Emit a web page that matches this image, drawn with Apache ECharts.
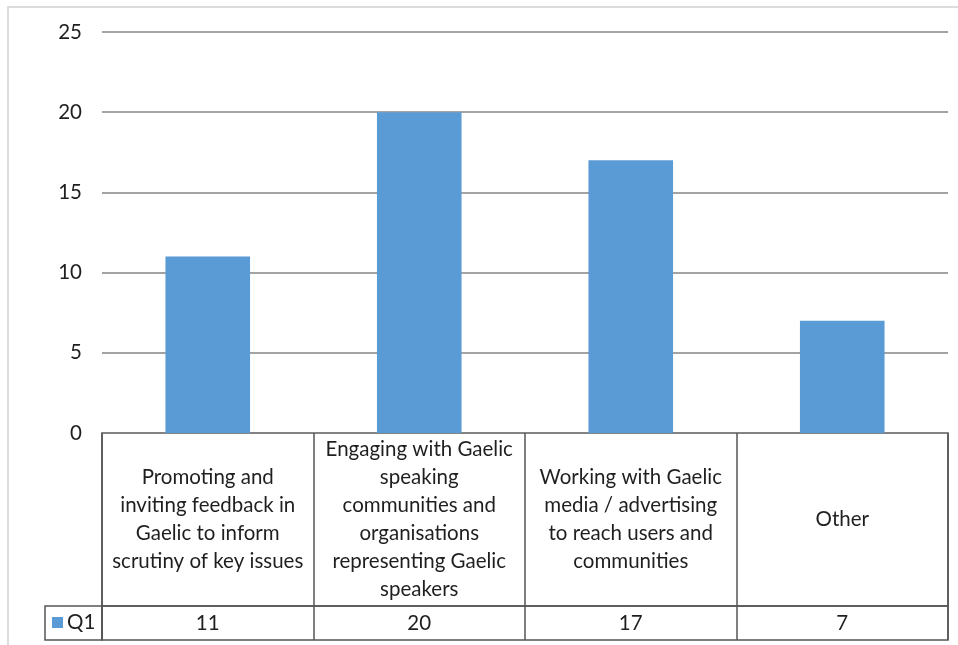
<!DOCTYPE html>
<html>
<head>
<meta charset="utf-8">
<script src="https://cdn.jsdelivr.net/npm/echarts@6/dist/echarts.min.js"></script>
<style>
  html, body { margin: 0; padding: 0; background: #fff; }
  #chart { width: 958px; height: 645px; }
</style>
</head>
<body>
<div id="chart"></div>
<script>
// Chart data
const seriesName = 'Q1';
const categories = [
  'Promoting and\ninviting feedback in\nGaelic to inform\nscrutiny of key issues',
  'Engaging with Gaelic\nspeaking\ncommunities and\norganisations\nrepresenting Gaelic\nspeakers',
  'Working with Gaelic\nmedia / advertising\nto reach users and\ncommunities',
  'Other'
];
const values = [11, 20, 17, 7];
const yTicks = { min: 0, max: 25, interval: 5 };

const FONT = 'Lato, "Open Sans", sans-serif';
const FONT_SIZE = 20.5;
const TEXT = '#1f1f1f';
const TABLE_LINE = '#555555';
const BAR = '#5b9bd5';

// Layout of the plot and the data table beneath it
const plotLeft = 102, plotRight = 10, plotTop = 32, plotHeight = 401;
const headTop = plotTop + plotHeight, headHeight = 173;
const rowTop = headTop + headHeight, rowHeight = 34;
const keyLeft = 45;

const chart = echarts.init(document.getElementById('chart'));

chart.setOption({
  animation: false,
  backgroundColor: '#fff',
  textStyle: { fontFamily: FONT },
  graphic: [{
    type: 'rect',
    shape: { x: 8, y: 7, width: 1000, height: 700 },
    style: { fill: 'none', stroke: '#dcdcdc', lineWidth: 2 },
    silent: true
  }],
  legend: {
    show: true,
    left: keyLeft + 7,
    top: rowTop + 6,
    padding: 0,
    itemWidth: 11,
    itemHeight: 11,
    itemGap: 4,
    icon: 'rect',
    textStyle: { fontFamily: FONT, fontSize: FONT_SIZE, color: TEXT, padding: [0, 0, 0, -1] },
    data: [seriesName]
  },
  grid: [
    // bar plot
    { left: plotLeft, right: plotRight, top: plotTop, height: plotHeight },
    // category header row of the data table
    { left: plotLeft, right: plotRight, top: headTop, height: headHeight,
      show: true, borderColor: TABLE_LINE, borderWidth: 1.5, backgroundColor: 'transparent' },
    // value row of the data table
    { left: plotLeft, right: plotRight, top: rowTop, height: rowHeight,
      show: true, borderColor: TABLE_LINE, borderWidth: 1.5, backgroundColor: 'transparent' },
    // series key cell
    { left: keyLeft, width: plotLeft - keyLeft, top: rowTop, height: rowHeight,
      show: true, borderColor: TABLE_LINE, borderWidth: 1.5, backgroundColor: 'transparent' }
  ],
  xAxis: [
    { gridIndex: 0, type: 'category', data: categories, boundaryGap: true,
      axisLine: { show: false }, axisTick: { show: false }, axisLabel: { show: false },
      splitLine: { show: false } },
    { gridIndex: 1, type: 'category', data: categories, boundaryGap: true,
      axisLine: { show: false }, axisTick: { show: false },
      splitLine: { show: true, interval: 0, lineStyle: { color: TABLE_LINE, width: 1.5 } },
      axisLabel: {
        interval: 0, margin: -headHeight / 2, verticalAlign: 'middle', align: 'center',
        fontFamily: FONT, fontSize: FONT_SIZE, lineHeight: 28, color: TEXT
      } },
    { gridIndex: 2, type: 'category', data: values.map(String), boundaryGap: true,
      axisLine: { show: false }, axisTick: { show: false },
      splitLine: { show: true, interval: 0, lineStyle: { color: TABLE_LINE, width: 1.5 } },
      axisLabel: {
        interval: 0, margin: -rowHeight / 2, verticalAlign: 'middle', align: 'center',
        fontFamily: FONT, fontSize: FONT_SIZE, color: TEXT
      } },
    { gridIndex: 3, type: 'value', show: false }
  ],
  yAxis: [
    { gridIndex: 0, type: 'value', min: yTicks.min, max: yTicks.max, interval: yTicks.interval,
      axisLine: { show: false }, axisTick: { show: false },
      axisLabel: { margin: 20, fontFamily: FONT, fontSize: FONT_SIZE, color: TEXT },
      splitLine: { show: true, lineStyle: { color: '#858585', width: 1.5 } } },
    { gridIndex: 1, type: 'value', show: false },
    { gridIndex: 2, type: 'value', show: false },
    { gridIndex: 3, type: 'value', show: false }
  ],
  series: [{
    name: seriesName,
    type: 'bar',
    xAxisIndex: 0,
    yAxisIndex: 0,
    data: values,
    barWidth: '40%',
    itemStyle: { color: BAR },
    z: 3
  }]
});
</script>
</body>
</html>
